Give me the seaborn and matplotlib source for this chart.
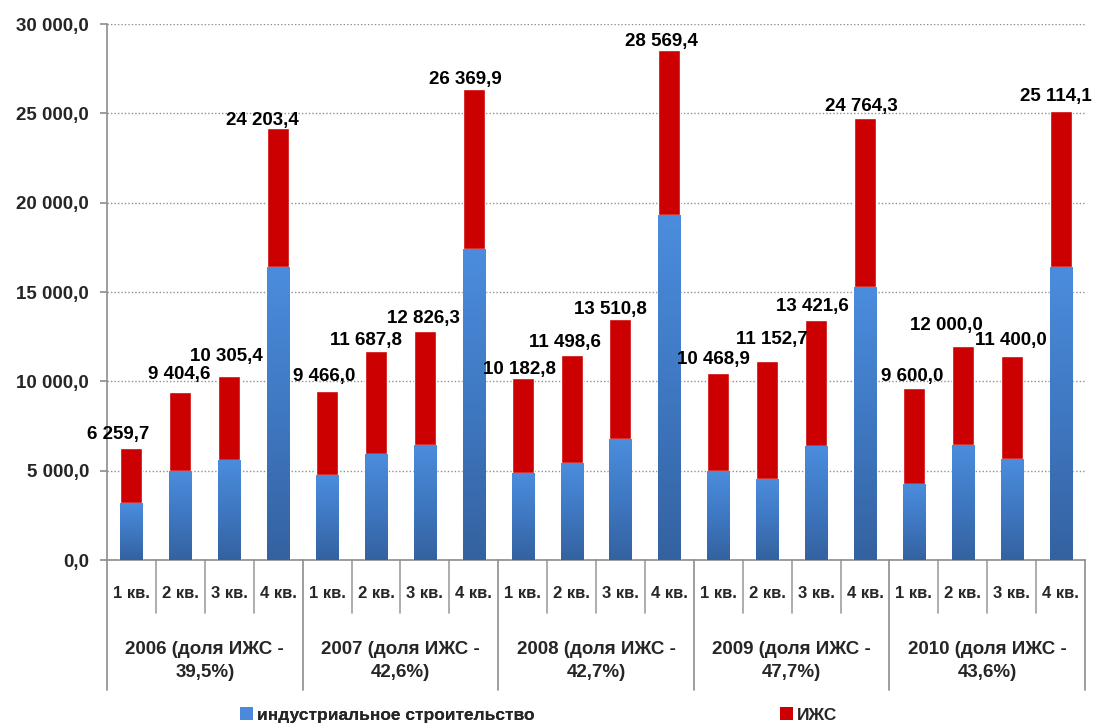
import numpy as np
import pandas as pd
import matplotlib
matplotlib.use("Agg")
import matplotlib.pyplot as plt
import matplotlib.transforms as mtransforms
from matplotlib.colors import LinearSegmentedColormap
from matplotlib.patches import Patch
from matplotlib.ticker import FuncFormatter, MultipleLocator
import seaborn as sns

# --- data -------------------------------------------------------------
years = ["2006", "2007", "2008", "2009", "2010"]
year_labels = [
    "2006 (доля ИЖС -\n39,5%)",
    "2007 (доля ИЖС -\n42,6%)",
    "2008 (доля ИЖС -\n42,7%)",
    "2009 (доля ИЖС -\n47,7%)",
    "2010 (доля ИЖС -\n43,6%)",
]
quarters = ["1 кв.", "2 кв.", "3 кв.", "4 кв."]

# total housing put into service per quarter (labels above the bars)
totals = [6259.7, 9404.6, 10305.4, 24203.4,
          9466.0, 11687.8, 12826.3, 26369.9,
          10182.8, 11498.6, 13510.8, 28569.4,
          10468.9, 11152.7, 13421.6, 24764.3,
          9600.0, 12000.0, 11400.0, 25114.1]
# industrial construction part of each total
industrial = [3190, 5000, 5600, 16420,
              4740, 5930, 6450, 17420,
              4890, 5410, 6770, 19310,
              4980, 4550, 6380, 15260,
              4240, 6440, 5630, 16420]

series_names = ["индустриальное строительство", "ИЖС"]

# --- styling ------------------------------------------------------------
sns.set_style("white")
plt.rcParams["font.family"] = ["Liberation Sans", "DejaVu Sans"]
plt.rcParams["font.weight"] = "bold"

RED = "#cc0000"
BLUE = "#4a89dc"
GRID = "#8c8c8c"

slots = [f"{y} {q}" for y in years for q in quarters]
df = pd.DataFrame({
    "slot": slots,
    "year": np.repeat(years, 4),
    "quarter": quarters * len(years),
    "total": totals,
    "industrial": industrial,
})

W, H = 1096, 724
fig = plt.figure(figsize=(W / 100, H / 100), dpi=100)
ax = fig.add_axes([107 / W, 1 - 560 / H, (1085 - 107) / W, (560 - 24) / H])

BAR_W = 0.45
# full column in red, industrial part drawn over its lower section
sns.barplot(data=df, x="slot", y="total", order=slots, color=RED,
            saturation=1, width=BAR_W, ax=ax, zorder=2)
n_red = len(ax.patches)
sns.barplot(data=df, x="slot", y="industrial", order=slots, color=BLUE,
            saturation=1, width=BAR_W, ax=ax, zorder=3)

# vertical gradient on the industrial segments
blue_cmap = LinearSegmentedColormap.from_list("bl", ["#3462a0", "#3f78c2", "#4b8ddd"])
grad = np.linspace(0, 1, 256).reshape(-1, 1)
for p in ax.patches[n_red:]:
    x0, y0 = p.get_x(), p.get_y()
    w, h = p.get_width(), p.get_height()
    im = ax.imshow(grad, cmap=blue_cmap, origin="lower", aspect="auto",
                   extent=(x0, x0 + w, y0, y0 + h), zorder=4)
    im.set_clip_path(p)

n = len(slots)
ax.set_xlim(-0.5, n - 0.5)
ax.set_ylim(0, 30000)

# axes, grid, ticks
ax.yaxis.set_major_locator(MultipleLocator(5000))
ax.yaxis.set_major_formatter(FuncFormatter(
    lambda v, _: f"{v:,.1f}".replace(",", " ").replace(".", ",")))
ax.grid(axis="y", linestyle=(0, (1, 1.5)), color="#8f8f8f", linewidth=1)
ax.set_axisbelow(True)
for s in ["top", "right"]:
    ax.spines[s].set_visible(False)
for s in ["left", "bottom"]:
    ax.spines[s].set_color(GRID)
    ax.spines[s].set_linewidth(1.2)
ax.tick_params(axis="y", left=True, length=5, width=1.2, color=GRID,
               pad=8, labelsize=13.5)
for t in ax.get_yticklabels():
    t.set_fontweight("bold")
ax.set_xticks([])
ax.set_xlabel("")
ax.set_ylabel("")

# value labels above each column
label_dx = [-13, -1, -3, -16, -3, -10, -1, -8, -3, -7,
            -10, -8, -5, 5, -4, -4, -2, -16, -1, -5]
label_dy = [14, 17, 19, 7, 14, 11, 12, 9, 9, 12,
            9, 8, 13, 21, 14, 11, 12, 20, 16, 15]
for i, v in enumerate(df["total"]):
    txt = f"{v:,.1f}".replace(",", " ").replace(".", ",")
    ax.annotate(txt, xy=(i, v), xytext=(label_dx[i], label_dy[i]),
                textcoords="offset pixels", ha="center", va="center",
                fontsize=13.5, fontweight="bold", color="black", zorder=6)

# two-level category table under the plot
trans = mtransforms.blended_transform_factory(ax.transData, ax.transAxes)
ah = 560 - 24
q_bottom = -(613 - 560) / ah
y_bottom = -(690 - 560) / ah
for k in range(n + 1):
    is_year = k % 4 == 0
    ax.plot([k - 0.5, k - 0.5], [0, y_bottom if is_year else q_bottom],
            transform=trans, color="#a0a0a0" if not is_year else GRID,
            lw=1.2, clip_on=False, zorder=1)
for i, q in enumerate(df["quarter"]):
    ax.text(i, -(593 - 560) / ah, q, transform=trans, ha="center",
            va="center", fontsize=12, fontweight="bold")
for j, lab in enumerate(year_labels):
    ax.text(4 * j + 1.5, -(661 - 560) / ah, lab, transform=trans,
            ha="center", va="center", fontsize=13.5, fontweight="bold",
            linespacing=1.4)

# legend along the bottom
leg_kw = dict(frameon=False, loc="center left", borderpad=0, borderaxespad=0,
              handlelength=0.75, handleheight=0.75, handletextpad=0.25,
              prop={"size": 12.5, "weight": "bold"})
leg1 = fig.legend(handles=[Patch(facecolor=BLUE, edgecolor="none")],
                  labels=[series_names[0]],
                  bbox_to_anchor=(240 / W, 1 - 715 / H), **leg_kw)
fig.add_artist(leg1)
fig.legend(handles=[Patch(facecolor=RED, edgecolor="none")],
           labels=[series_names[1]],
           bbox_to_anchor=(780 / W, 1 - 715 / H), **leg_kw)

fig.savefig("out.png", dpi=100)
